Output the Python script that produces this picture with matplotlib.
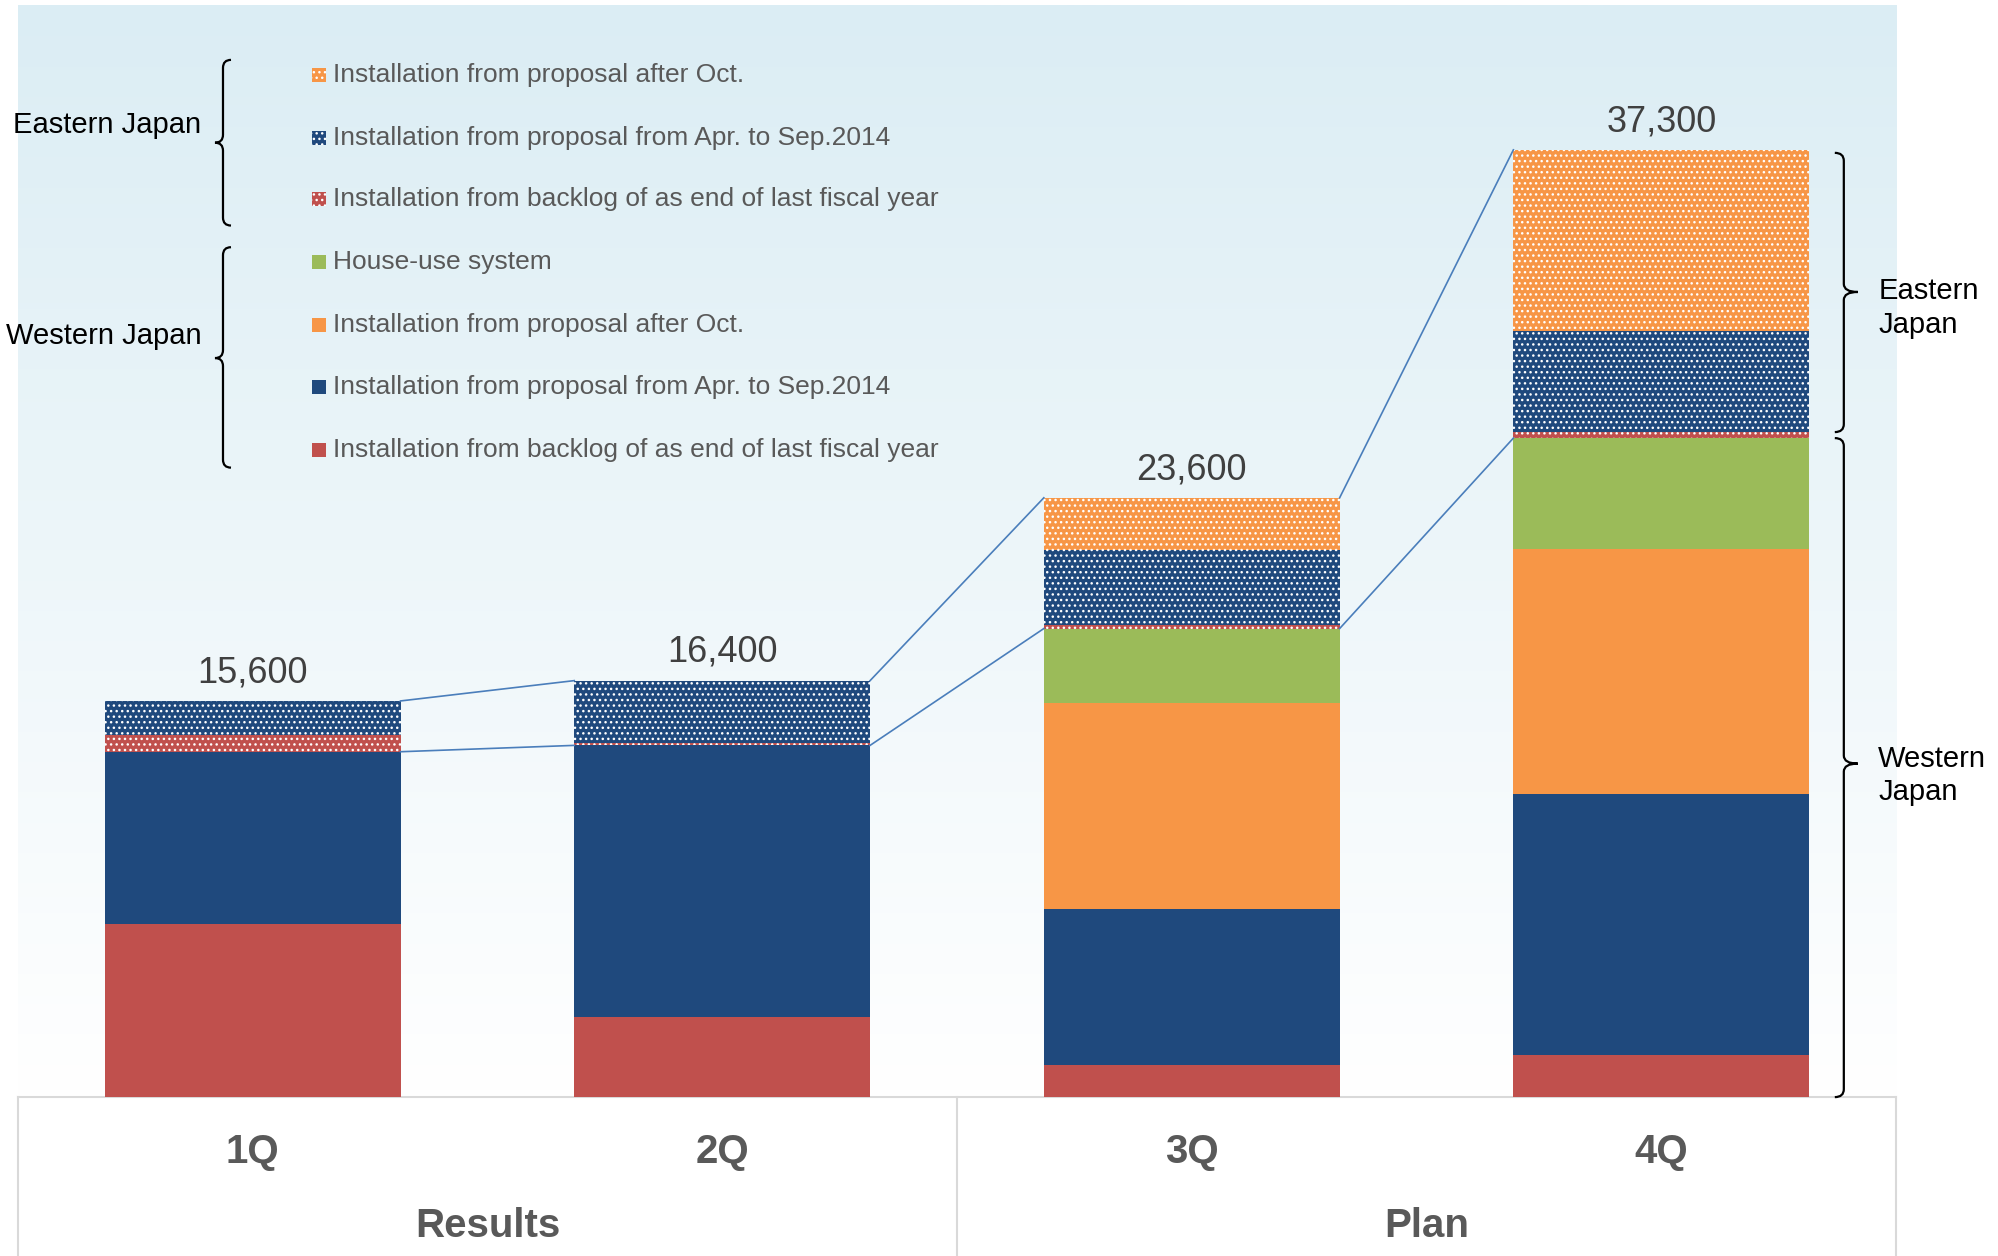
import numpy as np
import matplotlib
matplotlib.use("Agg")
import matplotlib.pyplot as plt
from matplotlib.path import Path
from matplotlib.patches import PathPatch, Rectangle
from matplotlib.transforms import IdentityTransform, blended_transform_factory

plt.rcParams["font.family"] = ["Liberation Sans", "DejaVu Sans"]
plt.rcParams["hatch.linewidth"] = 1.0

# ---- data (units) ----
quarters = ["1Q", "2Q", "3Q", "4Q"]
periods = ["Results", "Plan"]
west_backlog = [6800, 3150, 1250, 1650]
west_apr_sep = [6800, 10700, 6150, 10300]
west_after_oct = [0, 0, 8100, 9650]
west_house = [0, 0, 2950, 4350]
east_backlog = [650, 100, 150, 250]
east_apr_sep = [1350, 2450, 2950, 3950]
east_after_oct = [0, 0, 2050, 7150]

legend_labels = [
    "Installation from proposal after Oct.",
    "Installation from proposal from Apr. to Sep.2014",
    "Installation from backlog of as end of last fiscal year",
    "House-use system",
    "Installation from proposal after Oct.",
    "Installation from proposal from Apr. to Sep.2014",
    "Installation from backlog of as end of last fiscal year",
]

RED = "#c0504d"
NAVY = "#1f497d"
ORANGE = "#f79646"
GREEN = "#9bbb59"
LINK = "#4a7ebb"
GRID = "#d9d9d9"
DOTS = "..."

W, H = 1998, 1256
S = W / 1568.0
fig = plt.figure(figsize=(W / 100, H / 100), dpi=100)
fig.patch.set_facecolor("white")


def fx(xs):
    return xs * S / W


def fy(ys):
    return 1 - ys * S / H


def px(xs):
    return xs * S


def py(ys):
    return H - ys * S


ax = fig.add_axes([fx(14), fy(861), fx(1488) - fx(14), fy(4) - fy(861)])
YMAX = 43000
ax.set_xlim(-0.5, 3.5)
ax.set_ylim(0, YMAX)
ax.axis("off")

# background gradient: pale blue at top fading to white at the baseline
top = np.array([219, 237, 244]) / 255.0
t = np.linspace(0, 1, 256)[:, None]
grad = (top[None, :] * (1 - t) + np.ones(3)[None, :] * t)[:, None, :]
ax.imshow(grad, extent=(-0.5, 3.5, 0, YMAX), aspect="auto", origin="upper",
          zorder=0, interpolation="bilinear")

x = np.arange(len(quarters))
bw = 0.63
series = [
    (west_backlog, RED, None),
    (west_apr_sep, NAVY, None),
    (west_after_oct, ORANGE, None),
    (west_house, GREEN, None),
    (east_backlog, RED, DOTS),
    (east_apr_sep, NAVY, DOTS),
    (east_after_oct, ORANGE, DOTS),
]
bottom = np.zeros(len(quarters))
for vals, col, hatch in series:
    v = np.array(vals, dtype=float)
    if hatch:
        ax.bar(x, v, bw, bottom=bottom, color=col, hatch=hatch,
               edgecolor="white", linewidth=0, zorder=2)
    else:
        ax.bar(x, v, bw, bottom=bottom, color=col, linewidth=0, zorder=2)
    bottom += v
    if col is GREEN:
        west_total = bottom.copy()
totals = bottom.copy()

# connectors between bars (total and western subtotal)
for i in range(len(quarters) - 1):
    for ser in (totals, west_total):
        ax.plot([x[i] + bw / 2, x[i + 1] - bw / 2], [ser[i], ser[i + 1]],
                color=LINK, lw=1.2, zorder=3)

# total labels
for i, tv in enumerate(totals):
    ax.annotate(f"{int(round(tv)):,}", (x[i], tv), xytext=(0, 13.5),
                textcoords="offset points", ha="center", va="baseline",
                fontsize=26, color="#404040")

# category box under the bars
ax.axhline(0, color=GRID, lw=1.5, zorder=1, clip_on=False)
bt = blended_transform_factory(ax.transData, fig.transFigure)
for xv in (-0.5, 1.5, 3.5):
    ax.plot([xv, xv], [fy(861), 0], color=GRID, lw=1.5, transform=bt,
            clip_on=False, zorder=1)
for i, q in enumerate(quarters):
    ax.text(x[i], 1 - 1163 / H, q, transform=bt, ha="center", va="baseline",
            fontsize=29, fontweight="bold", color="#595959")
for j, p in enumerate(periods):
    ax.text(2 * j + 0.5, 1 - 1237 / H, p, transform=bt, ha="center",
            va="baseline", fontsize=29, fontweight="bold", color="#595959")

# legend drawn as a column of swatches and labels
leg_y = [59, 108, 156, 206, 255, 304, 353]
leg_style = [(ORANGE, DOTS), (NAVY, DOTS), (RED, DOTS), (GREEN, None),
             (ORANGE, None), (NAVY, None), (RED, None)]
sq = 14
for yy, (col, hatch), lab in zip(leg_y, leg_style, legend_labels):
    r = Rectangle((px(250) - sq / 2, py(yy) - sq / 2), sq, sq,
                  transform=IdentityTransform(), facecolor=col,
                  hatch=hatch, edgecolor="white" if hatch else col,
                  linewidth=0)
    fig.add_artist(r)
    fig.text(fx(261), fy(yy), lab, ha="left", va="center", fontsize=19,
             color="#595959")


def brace(xv, y_top, y_bot, y_tip, hook, tip, r=8):
    verts = [
        (xv + hook, y_top),
        (xv, y_top), (xv, y_top - r),
        (xv, y_tip + r),
        (xv, y_tip), (xv + tip, y_tip),
        (xv, y_tip), (xv, y_tip - r),
        (xv, y_bot + r),
        (xv, y_bot), (xv + hook, y_bot),
    ]
    codes = [Path.MOVETO, Path.CURVE3, Path.CURVE3, Path.LINETO,
             Path.CURVE3, Path.CURVE3, Path.CURVE3, Path.CURVE3,
             Path.LINETO, Path.CURVE3, Path.CURVE3]
    fig.add_artist(PathPatch(Path(verts, codes), fill=False, lw=1.6,
                             edgecolor="black", transform=IdentityTransform()))


# left group braces (legend)
brace(px(175), py(47), py(177), py(112), hook=8, tip=-8)
brace(px(175), py(194), py(367), py(281), hook=8, tip=-8)
fig.text(fx(158), fy(98), "Eastern Japan", ha="right", va="center",
         fontsize=21, color="black")
fig.text(fx(158), fy(264), "Western Japan", ha="right", va="center",
         fontsize=21, color="black")

# right braces tied to the 4Q stack
fig.canvas.draw()
to_disp = ax.transData.transform
xb = px(1447)
_, e_top = to_disp((3, totals[3]))
_, w_top = to_disp((3, west_total[3]))
_, base = to_disp((3, 0))
brace(xb, e_top - 3, w_top + 6, (e_top + w_top) / 2 + 2, hook=-9, tip=14)
brace(xb, w_top, base, (w_top + base) / 2 + 4, hook=-9, tip=14)
fig.text(fx(1474), ((e_top + w_top) / 2 - 14) / H, "Eastern\nJapan",
         ha="left", va="center", fontsize=21, color="black", linespacing=1.25)
fig.text(fx(1474), ((w_top + base) / 2 - 8) / H, "Western\nJapan",
         ha="left", va="center", fontsize=21, color="black", linespacing=1.25)

fig.savefig("out.png", dpi=100)
